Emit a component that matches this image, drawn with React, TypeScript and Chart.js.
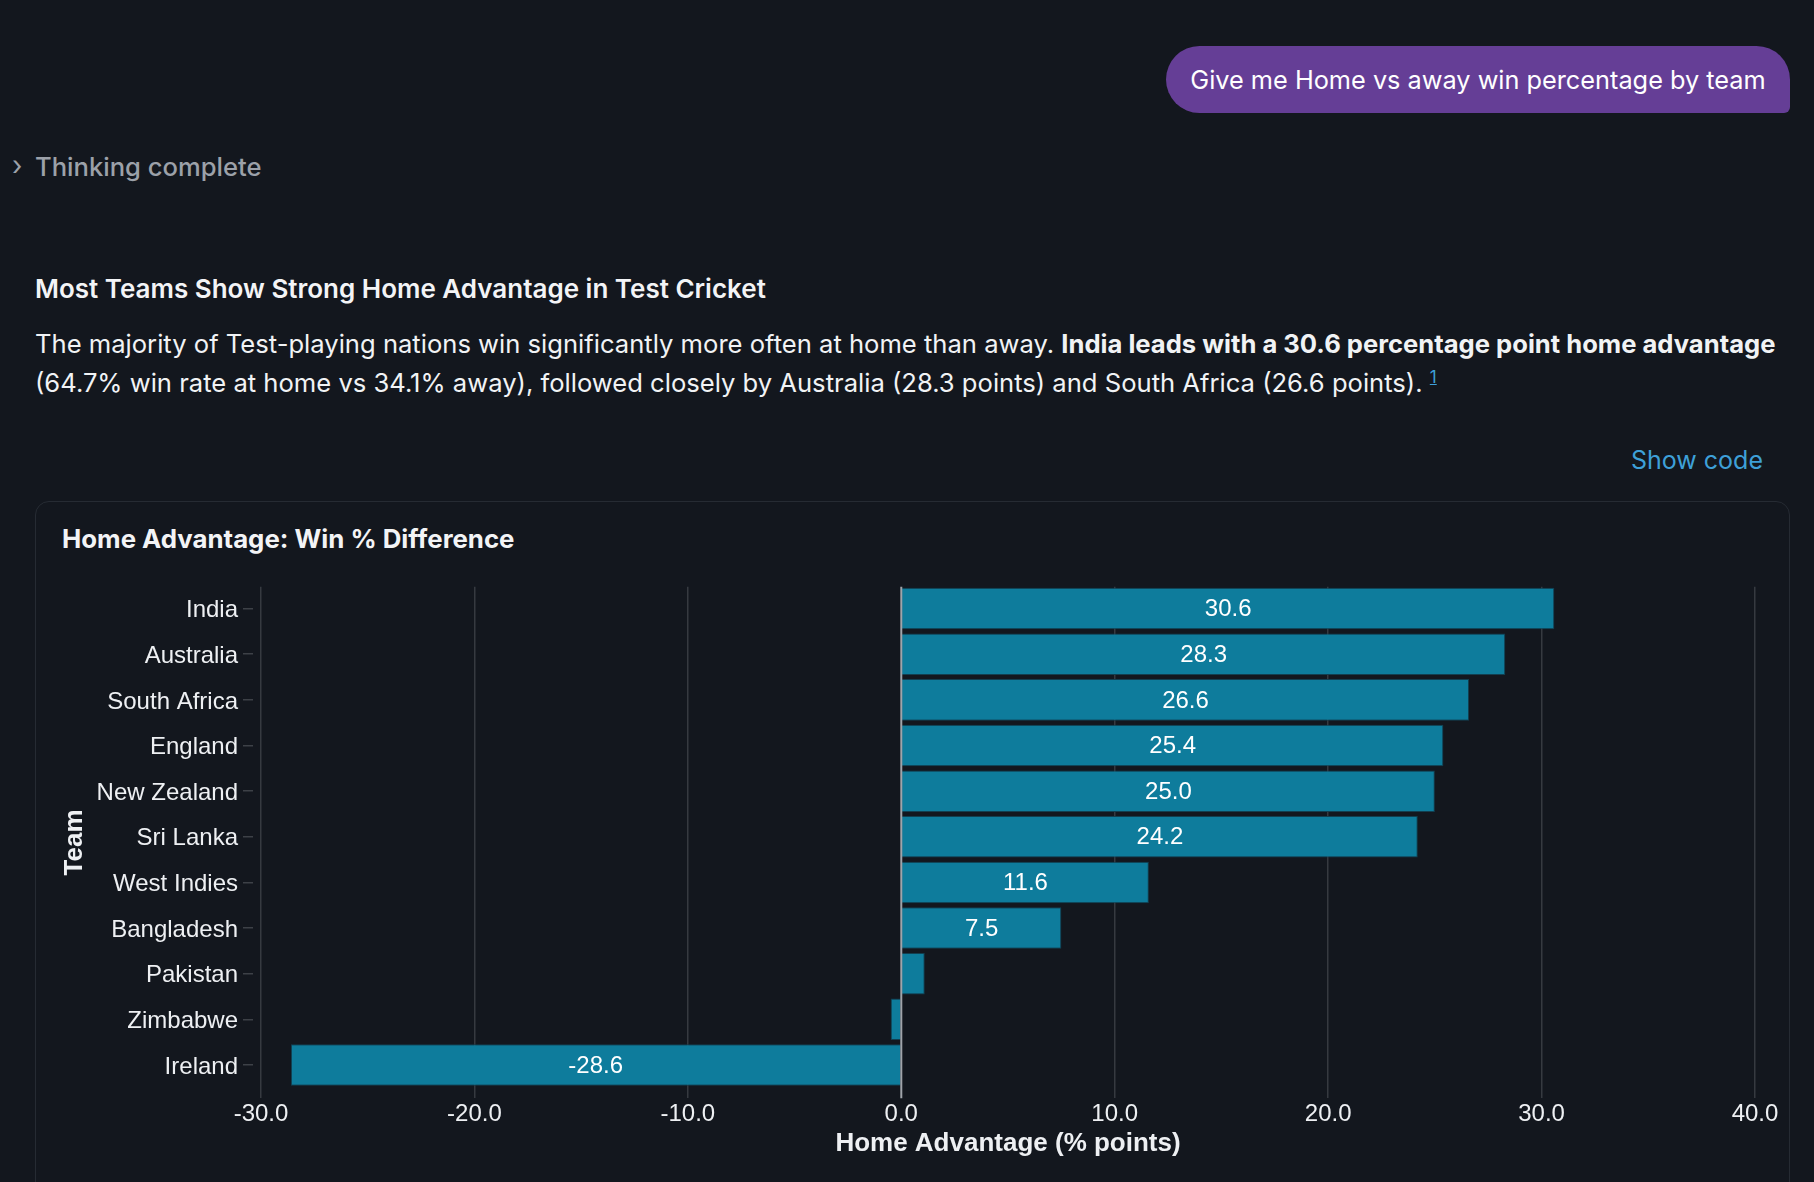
import React, { useEffect, useRef } from "react";
import { Chart, registerables } from "chart.js";

Chart.register(...registerables);

// ---- data ----
const teams = [
  "India",
  "Australia",
  "South Africa",
  "England",
  "New Zealand",
  "Sri Lanka",
  "West Indies",
  "Bangladesh",
  "Pakistan",
  "Zimbabwe",
  "Ireland",
];
const homeAdvantage = [30.6, 28.3, 26.6, 25.4, 25.0, 24.2, 11.6, 7.5, 1.1, -0.5, -28.6];
const xTickValues = [-30, -20, -10, 0, 10, 20, 30, 40];
const xRange = [-30.375, 40.375];
const yRange = [-0.48, 10.73];

const AXIS_FAMILY = "'Liberation Sans', Arial, Helvetica, sans-serif";
const UI_FAMILY = "Inter, 'Noto Sans', sans-serif";
const TEXT_COLOR = "#eef0f3";
const BAR_COLOR = "#0e7c9c";

const barLabelPlugin = {
  id: "barLabels",
  afterDatasetsDraw(chart: any) {
    const { ctx } = chart;
    const meta = chart.getDatasetMeta(0);
    ctx.save();
    ctx.font = `24px ${AXIS_FAMILY}`;
    ctx.fillStyle = "#ffffff";
    ctx.textAlign = "center";
    ctx.textBaseline = "middle";
    meta.data.forEach((bar: any, i: number) => {
      const { x, y, base } = bar.getProps(["x", "y", "base"], true);
      const text = homeAdvantage[i].toFixed(1);
      const w = Math.abs(x - base);
      if (ctx.measureText(text).width + 10 < w) {
        ctx.fillText(text, (x + base) / 2, y + 1);
      }
    });
    ctx.restore();
  },
};

const zeroLinePlugin = {
  id: "zeroLine",
  afterDatasetsDraw(chart: any) {
    const { ctx, chartArea } = chart;
    const px = chart.scales.x.getPixelForValue(0);
    ctx.save();
    ctx.strokeStyle = "#a0a4aa";
    ctx.lineWidth = 2;
    ctx.beginPath();
    ctx.moveTo(px, chartArea.top);
    ctx.lineTo(px, chartArea.bottom);
    ctx.stroke();
    ctx.restore();
  },
};

function HomeAdvantageChart() {
  const ref = useRef<HTMLCanvasElement | null>(null);
  useEffect(() => {
    if (!ref.current) return;
    const chart = new Chart(ref.current, {
      type: "bar",
      data: {
        datasets: [
          {
            data: teams.map((t, i) => ({ x: homeAdvantage[i], y: i })) as any,
            backgroundColor: BAR_COLOR,
            borderColor: "#123f50",
            borderWidth: 1,
            barPercentage: 0.91,
            categoryPercentage: 1,
          },
        ],
      },
      options: {
        indexAxis: "y",
        responsive: false,
        maintainAspectRatio: false,
        animation: false,
        layout: { padding: { top: 26.7, right: 22, bottom: 0, left: 0 } },
        plugins: { legend: { display: false }, tooltip: { enabled: false } },
        scales: {
          x: {
            type: "linear",
            position: "bottom",
            min: xRange[0],
            max: xRange[1],
            afterBuildTicks: (s: any) => {
              s.ticks = xTickValues.map((v) => ({ value: v }));
            },
            afterFit: (s: any) => {
              s.height = 83.7;
            },
            grid: {
              color: (c: any) => (c.tick && c.tick.value === 0 ? "rgba(0,0,0,0)" : "#363a40"),
              lineWidth: 1.5,
              drawTicks: false,
            },
            border: { display: false },
            ticks: {
              color: TEXT_COLOR,
              font: { family: AXIS_FAMILY, size: 24 },
              padding: 2,
              autoSkip: false,
              maxRotation: 0,
              callback: (v: any) => Number(v).toFixed(1),
            },
            title: {
              display: true,
              text: "Home Advantage (% points)",
              color: TEXT_COLOR,
              font: { family: AXIS_FAMILY, size: 26, weight: "bold" },
              padding: { top: 0, bottom: 22.4 },
            },
          },
          y: {
            type: "linear",
            reverse: true,
            offset: false,
            min: yRange[0],
            max: yRange[1],
            afterBuildTicks: (s: any) => {
              s.ticks = teams.map((_, i) => ({ value: i }));
            },
            afterFit: (s: any) => {
              s.width = 213;
            },
            grid: {
              offset: false,
              drawOnChartArea: false,
              drawTicks: true,
              tickLength: 10,
              color: "#3d4147",
              lineWidth: 1.5,
            },
            border: { display: false },
            ticks: {
              color: TEXT_COLOR,
              font: { family: AXIS_FAMILY, size: 24 },
              padding: 5,
              labelOffset: 2,
              autoSkip: false,
              callback: (v: any) => teams[v] ?? "",
            },
            title: {
              display: true,
              text: "Team",
              color: TEXT_COLOR,
              font: { family: AXIS_FAMILY, size: 26, weight: "bold" },
              padding: { top: 19.4, bottom: 0 },
            },
          },
        },
      } as any,
      plugins: [barLabelPlugin, zeroLinePlugin],
    });
    return () => chart.destroy();
  }, []);
  return (
    <canvas
      ref={ref}
      width={1745}
      height={622}
      style={{ position: "absolute", left: 40, top: 560, width: 1745, height: 622 }}
    />
  );
}

export default function App() {
  const abs = (o: React.CSSProperties): React.CSSProperties => ({ position: "absolute", whiteSpace: "nowrap", ...o });
  return (
    <div
      style={{
        position: "fixed",
        inset: 0,
        background: "#13171e",
        overflow: "hidden",
        fontFamily: UI_FAMILY,
        color: "#f1f3f5",
      }}
    >
      <div
        style={abs({
          left: 1166,
          top: 46,
          width: 624,
          height: 67,
          borderRadius: "34px 34px 6px 34px",
          background: "#653e96",
          color: "#ffffff",
          fontSize: 25.3,
          display: "flex",
          alignItems: "center",
          justifyContent: "center",
        })}
      >
        Give me Home vs away win percentage by team
      </div>

      <div style={abs({ left: 12, top: 149, lineHeight: "34px", fontSize: 27, color: "#9ca1a9" })}>›</div>
      <div style={abs({ left: 35, top: 150, lineHeight: "34px", fontSize: 25.6, color: "#9ca1a9", fontWeight: 500 })}>
        Thinking complete
      </div>

      <div style={abs({ left: 35, top: 272, lineHeight: "34px", fontSize: 26, fontWeight: 600, color: "#f3f4f6" })}>
        Most Teams Show Strong Home Advantage in Test Cricket
      </div>

      <div style={abs({ left: 35, top: 323.5, lineHeight: "39px", fontSize: 25.6, color: "#f1f3f5" })}>
        The majority of Test-playing nations win significantly more often at home than away.{" "}
        <b style={{ fontWeight: 700 }}>India leads with a 30.6 percentage point home advantage</b>
        <br />
        (64.7% win rate at home vs 34.1% away), followed closely by Australia (28.3 points) and South Africa (26.6
        points).{" "}
        <span
          style={{
            position: "relative",
            top: -9,
            fontSize: 17,
            lineHeight: "0px",
            color: "#3ea0d8",
            textDecoration: "underline",
          }}
        >
          1
        </span>
      </div>

      <div style={abs({ right: 1814 - 1763, top: 443, lineHeight: "34px", fontSize: 25, color: "#3ea0d8" })}>
        Show code
      </div>

      <div
        style={abs({
          left: 35,
          top: 501,
          width: 1753,
          height: 800,
          border: "1px solid #262b33",
          borderRadius: 14,
        })}
      />
      <div style={abs({ left: 62, top: 522, lineHeight: "34px", fontSize: 25.8, fontWeight: 700, color: "#f3f4f6" })}>
        Home Advantage: Win % Difference
      </div>

      <HomeAdvantageChart />
    </div>
  );
}
